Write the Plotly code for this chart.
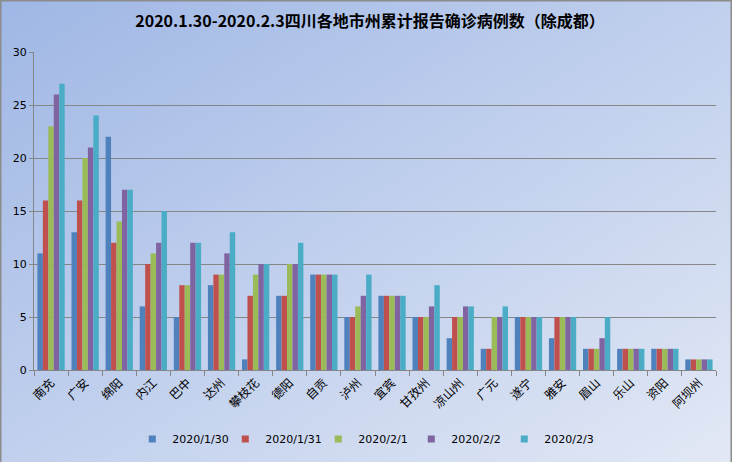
import base64
import plotly.graph_objects as go

categories = ["南充", "广安", "绵阳", "内江", "巴中", "达州", "攀枝花", "德阳", "自贡", "泸州",
              "宜宾", "甘孜州", "凉山州", "广元", "遂宁", "雅安", "眉山", "乐山", "资阳", "阿坝州"]
series_names = ["2020/1/30", "2020/1/31", "2020/2/1", "2020/2/2", "2020/2/3"]
d0130 = [11, 13, 22, 6, 5, 8, 1, 7, 9, 5, 7, 5, 3, 2, 5, 3, 2, 2, 2, 1]
d0131 = [16, 16, 12, 10, 8, 9, 7, 7, 9, 5, 7, 5, 5, 2, 5, 5, 2, 2, 2, 1]
d0201 = [23, 20, 14, 11, 8, 9, 9, 10, 9, 6, 7, 5, 5, 5, 5, 5, 2, 2, 2, 1]
d0202 = [26, 21, 17, 12, 12, 11, 10, 10, 9, 7, 7, 6, 6, 5, 5, 5, 3, 2, 2, 1]
d0203 = [27, 24, 17, 15, 12, 13, 10, 12, 9, 9, 7, 8, 6, 6, 5, 5, 5, 2, 2, 1]
series_values = [d0130, d0131, d0201, d0202, d0203]
colors = ["#4F81BD", "#C0504D", "#9BBB59", "#8064A2", "#4BACC6"]
y_ticks = [0, 5, 10, 15, 20, 25, 30]

W, H = 732, 462
L, R, T, B = 34, 16, 52, 92
PW, PH = W - L - R, H - T - B

fig = go.Figure()
for name, vals, col in zip(series_names, series_values, colors):
    fig.add_trace(go.Bar(x=categories, y=vals, name=name, showlegend=False,
                         marker=dict(color=col, line=dict(width=0))))
# legend entries with small square keys
for name, col in zip(series_names, colors):
    fig.add_trace(go.Scatter(x=[None], y=[None], mode="markers", name=name,
                             marker=dict(symbol="square", size=7, color=col), hoverinfo="skip"))

svg = (f"<svg xmlns='http://www.w3.org/2000/svg' width='{W}' height='{H}' viewBox='0 0 {W} {H}' preserveAspectRatio='none'>"
       "<defs><linearGradient id='g' x1='0' y1='0' x2='1' y2='1'>"
       "<stop offset='0' stop-color='#9fb7e5'/><stop offset='1' stop-color='#e2e8f5'/>"
       "</linearGradient></defs>"
       f"<rect width='{W}' height='{H}' fill='url(#g)'/></svg>")
src = "data:image/svg+xml;base64," + base64.b64encode(svg.encode()).decode()

x0p, x1p = -L / PW, 1 + R / PW
y0p, y1p = -B / PH, 1 + T / PH

fig.update_layout(
    width=W, height=H,
    margin=dict(l=L, r=R, t=T, b=B, pad=0, autoexpand=False),
    paper_bgcolor="#c6d4ee",
    plot_bgcolor="rgba(0,0,0,0)",
    barmode="group",
    bargap=0.2,
    bargroupgap=0,
    title=dict(text="<b>2020.1.30-2020.2.3四川各地市州累计报告确诊病例数（除成都）</b>",
               x=370 / W, xanchor="center", y=1 - 21 / H, yanchor="middle",
               font=dict(family="Noto Sans CJK SC", size=16, color="#000000")),
    font=dict(family="DejaVu Sans", size=11, color="#000000"),
    xaxis=dict(showline=True, linecolor="#868686", linewidth=1, ticks="outside", tickson="boundaries",
               ticklen=5, tickcolor="#868686", tickangle=-45,
               tickfont=dict(family="Noto Sans CJK SC", size=12, color="#000000"),
               showgrid=False, fixedrange=True),
    yaxis=dict(range=[0, 30], tickvals=y_ticks, showline=True, linecolor="#868686", linewidth=1,
               ticks="outside", ticklen=4, tickcolor="#868686", showgrid=True, gridcolor="#868686",
               gridwidth=1, zeroline=False, tickfont=dict(family="DejaVu Sans", size=11, color="#000000")),
    legend=dict(orientation="h", x=0.485, xanchor="center", y=(370 - 439) / PH, yanchor="middle",
                font=dict(family="DejaVu Sans", size=11, color="#000000"),
                bgcolor="rgba(0,0,0,0)", itemwidth=30, entrywidth=48, entrywidthmode="pixels",
                traceorder="normal"),
    images=[dict(source=src, xref="paper", yref="paper", x=x0p, y=y1p, sizex=x1p - x0p, sizey=y1p - y0p,
                 xanchor="left", yanchor="top", sizing="stretch", layer="below")],
    shapes=[dict(type="path", xref="paper", yref="paper",
                 path=f"M {x0p},{y0p} L {x0p},{y1p} L {x1p},{y1p} L {x1p},{y0p}",
                 line=dict(color="#8c8c8c", width=3))],
)

fig.write_html("out.html")
